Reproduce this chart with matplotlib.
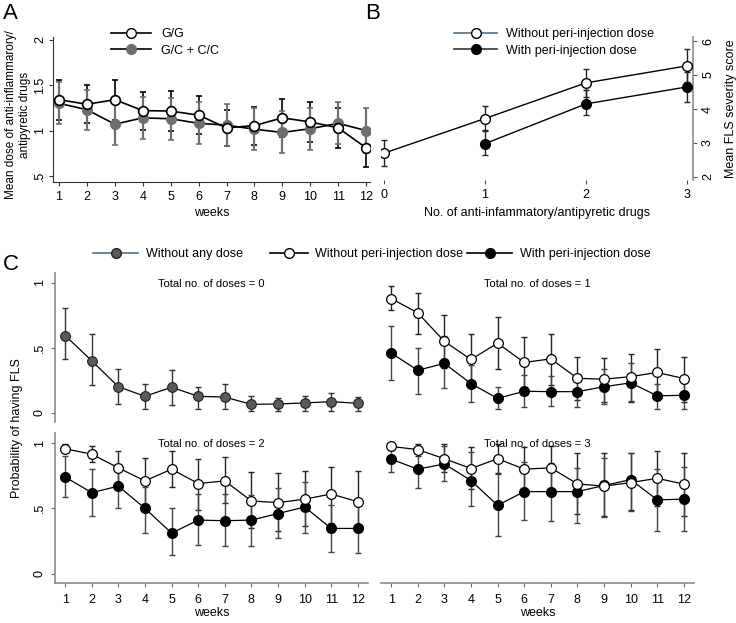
import matplotlib
matplotlib.use("Agg")
import matplotlib.pyplot as plt
from matplotlib.lines import Line2D

plt.rcParams['font.family'] = ['Liberation Sans', 'DejaVu Sans']

# ---- datos panel A ----
semanas = list(range(1, 13))
gg_media = [1.34, 1.29, 1.34, 1.22, 1.215, 1.17, 1.03, 1.055, 1.14, 1.095, 1.03, 0.81]
gg_err = [0.22, 0.21, 0.22, 0.21, 0.22, 0.21, 0.20, 0.21, 0.21, 0.22, 0.22, 0.21]
gc_media = [1.30, 1.23, 1.07, 1.14, 1.13, 1.08, 1.06, 1.015, 0.98, 1.02, 1.08, 1.00]
gc_err = [0.23, 0.22, 0.23, 0.23, 0.23, 0.23, 0.23, 0.23, 0.23, 0.23, 0.23, 0.245]

# ---- datos panel B ----
farmacos_sin = [0, 1, 2, 3]
sin_media = [2.7, 3.72, 4.77, 5.27]
sin_inf = [2.33, 3.35, 4.35, 4.80]
sin_sup = [3.10, 4.10, 5.17, 5.77]
farmacos_con = [1, 2, 3]
con_media = [2.98, 4.15, 4.65]
con_inf = [2.65, 3.83, 4.22]
con_sup = [3.38, 4.55, 5.10]

# ---- datos panel C ----
ninguna_p = [0.595, 0.40, 0.20, 0.126, 0.196, 0.126, 0.12, 0.064, 0.067, 0.075, 0.085, 0.072]
ninguna_inf = [0.41, 0.21, 0.065, 0.03, 0.06, 0.03, 0.03, 0.01, 0.01, 0.01, 0.015, 0.013]
ninguna_sup = [0.81, 0.61, 0.34, 0.22, 0.33, 0.20, 0.22, 0.126, 0.116, 0.13, 0.155, 0.124]

d1_sin_p = [0.88, 0.77, 0.55, 0.41, 0.536, 0.387, 0.415, 0.265, 0.258, 0.278, 0.31, 0.263]
d1_sin_inf = [0.79, 0.61, 0.345, 0.21, 0.335, 0.18, 0.21, 0.10, 0.08, 0.085, 0.126, 0.085]
d1_sin_sup = [0.975, 0.92, 0.75, 0.605, 0.74, 0.585, 0.605, 0.43, 0.42, 0.45, 0.49, 0.433]
d1_con_p = [0.46, 0.327, 0.38, 0.224, 0.11, 0.165, 0.162, 0.162, 0.20, 0.23, 0.13, 0.134]
d1_con_inf = [0.255, 0.147, 0.19, 0.08, 0.026, 0.046, 0.05, 0.046, 0.067, 0.09, 0.03, 0.03]
d1_con_sup = [0.665, 0.50, 0.595, 0.37, 0.196, 0.29, 0.28, 0.25, 0.335, 0.38, 0.22, 0.227]

d2_sin_p = [0.956, 0.915, 0.81, 0.71, 0.80, 0.69, 0.71, 0.556, 0.544, 0.57, 0.61, 0.55]
d2_sin_inf = [0.93, 0.856, 0.68, 0.53, 0.66, 0.49, 0.54, 0.35, 0.33, 0.365, 0.39, 0.315]
d2_sin_sup = [0.99, 0.98, 0.94, 0.885, 0.94, 0.877, 0.89, 0.78, 0.77, 0.785, 0.815, 0.785]
d2_con_p = [0.74, 0.62, 0.67, 0.50, 0.31, 0.41, 0.405, 0.41, 0.46, 0.51, 0.346, 0.346]
d2_con_inf = [0.59, 0.44, 0.50, 0.31, 0.14, 0.22, 0.21, 0.21, 0.27, 0.31, 0.164, 0.154]
d2_con_sup = [0.90, 0.80, 0.83, 0.667, 0.50, 0.61, 0.61, 0.60, 0.655, 0.705, 0.525, 0.535]

d3_sin_p = [0.974, 0.95, 0.88, 0.805, 0.88, 0.80, 0.81, 0.687, 0.67, 0.697, 0.73, 0.685]
d3_sin_inf = [0.95, 0.90, 0.78, 0.645, 0.77, 0.64, 0.645, 0.455, 0.44, 0.49, 0.52, 0.445]
d3_sin_sup = [0.99, 0.995, 0.99, 0.97, 0.99, 0.97, 0.975, 0.92, 0.92, 0.925, 0.94, 0.925]
d3_con_p = [0.877, 0.80, 0.84, 0.713, 0.523, 0.628, 0.628, 0.628, 0.675, 0.72, 0.565, 0.57]
d3_con_inf = [0.78, 0.654, 0.71, 0.52, 0.287, 0.41, 0.40, 0.39, 0.436, 0.48, 0.326, 0.326]
d3_con_sup = [0.95, 0.97, 0.975, 0.93, 0.765, 0.855, 0.85, 0.81, 0.885, 0.925, 0.80, 0.815]

ANCHO, ALTO = 736, 623
fig = plt.figure(figsize=(ANCHO / 100, ALTO / 100), dpi=100)


def caja(x0, y0, x1, y1):
    # convierte pixeles (arriba-izquierda) a fracciones de figura
    return [x0 / ANCHO, 1 - y1 / ALTO, (x1 - x0) / ANCHO, (y1 - y0) / ALTO]


def asimetrico(media, inf, sup):
    return [[m - a for m, a in zip(media, inf)], [b - m for m, b in zip(media, sup)]]


GRIS_EJE = '#8c8c8c'
GRIS_MARC = '#6e6e6e'
GRIS_C = '#5a5a5a'
LEYENDA_AZUL = '#4f6f88'

# ================= Panel A =================
axA = fig.add_axes(caja(53, 37, 370, 182))
axA.errorbar(semanas, gg_media, yerr=gg_err, fmt='none', ecolor='black', elinewidth=1.2, capsize=2.5, capthick=1.2, zorder=2)
axA.errorbar(semanas, gc_media, yerr=gc_err, fmt='none', ecolor=GRIS_MARC, elinewidth=1.6, capsize=2.5, capthick=1.2, zorder=2)
axA.plot(semanas, gc_media, '-o', color='black', lw=1.2, mfc=GRIS_MARC, mec=GRIS_MARC, ms=7, zorder=3)
axA.plot(semanas, gg_media, '-o', color='black', lw=1.2, mfc='white', mec='black', mew=1.2, ms=7, zorder=4)
axA.set_xlim(0.785, 12.14)
axA.set_ylim(0.434, 2.03)
axA.set_xticks(semanas)
axA.set_yticks([0.5, 1, 1.5, 2])
axA.set_yticklabels(['.5', '1', '1.5', '2'], rotation=90, va='center')
axA.set_xlabel('weeks', fontsize=9, labelpad=3)
for lado in ['top', 'right']:
    axA.spines[lado].set_visible(False)
for lado in ['left', 'bottom']:
    axA.spines[lado].set_color('#333333')
axA.tick_params(labelsize=9, length=3, color='#333333')
axA.tick_params(axis='y', pad=2)
fig.text(18 / ANCHO, 1 - 115 / ALTO, 'Mean dose of anti-inflammarory/\nantipyretic drugs', rotation=90,
         ha='center', va='center', multialignment='center', fontsize=8.5)
manijasA = [Line2D([], [], color='black', lw=1.2, marker='o', mfc='white', mec='black', ms=7),
            Line2D([], [], color='black', lw=1.2, marker='o', mfc=GRIS_MARC, mec=GRIS_MARC, ms=7)]
fig.legend(manijasA, ['G/G', 'G/C + C/C'], loc='upper left', bbox_to_anchor=(100 / ANCHO, 1 - 17 / ALTO),
           frameon=False, fontsize=9, handlelength=3.2, handletextpad=0.8, labelspacing=0.35)
fig.text(3 / ANCHO, 1 - 3 / ALTO, 'A', fontsize=16, va='top', ha='left')

# ================= Panel B =================
axB = fig.add_axes(caja(381, 37, 693, 180))
axB.errorbar(farmacos_sin, sin_media, yerr=asimetrico(sin_media, sin_inf, sin_sup), fmt='none', ecolor='#222222',
             elinewidth=1.0, capsize=2.5, zorder=2)
axB.errorbar(farmacos_con, con_media, yerr=asimetrico(con_media, con_inf, con_sup), fmt='none', ecolor='#222222',
             elinewidth=1.0, capsize=2.5, zorder=2)
axB.plot(farmacos_sin, sin_media, '-o', color='black', lw=1.0, mfc='white', mec='black', ms=7, zorder=4)
axB.plot(farmacos_con, con_media, '-o', color='black', lw=1.0, mfc='black', mec='black', ms=7, zorder=3)
axB.set_xlim(-0.03, 3.06)
axB.set_ylim(1.91, 6.12)
axB.set_xticks([0, 1, 2, 3])
axB.set_yticks([2, 3, 4, 5, 6])
axB.yaxis.tick_right()
axB.yaxis.set_label_position('right')
axB.set_yticklabels(['2', '3', '4', '5', '6'], rotation=90, va='center')
axB.set_xlabel('No. of anti-infammatory/antipyretic drugs', fontsize=9, labelpad=4)
axB.set_ylabel('Mean FLS severity score', fontsize=9, labelpad=8)
for lado in ['top', 'left', 'bottom']:
    axB.spines[lado].set_visible(False)
axB.spines['right'].set_color(GRIS_EJE)
axB.spines['right'].set_linewidth(1.2)
axB.tick_params(labelsize=9, length=3, color='#555555')
manijasB = [Line2D([], [], color=LEYENDA_AZUL, lw=1.2, marker='o', mfc='white', mec='black', ms=7),
            Line2D([], [], color='#333333', lw=1.2, marker='o', mfc='black', mec='black', ms=7)]
fig.legend(manijasB, ['Without peri-injection dose', 'With peri-injection dose'], loc='upper left',
           bbox_to_anchor=(443 / ANCHO, 1 - 17 / ALTO), frameon=False, fontsize=9,
           handlelength=3.4, handletextpad=0.7, labelspacing=0.35)
fig.text(365 / ANCHO, 1 - 3 / ALTO, 'B', fontsize=16, va='top', ha='left')

# ================= Panel C =================
paneles = [
    (caja(55, 273, 368, 422), 'Total no. of doses = 0', None, (ninguna_p, ninguna_inf, ninguna_sup)),
    (caja(381, 273, 694, 422), 'Total no. of doses = 1', (d1_sin_p, d1_sin_inf, d1_sin_sup), (d1_con_p, d1_con_inf, d1_con_sup)),
    (caja(55, 433, 368, 583), 'Total no. of doses = 2', (d2_sin_p, d2_sin_inf, d2_sin_sup), (d2_con_p, d2_con_inf, d2_con_sup)),
    (caja(381, 433, 694, 583), 'Total no. of doses = 3', (d3_sin_p, d3_sin_inf, d3_sin_sup), (d3_con_p, d3_con_inf, d3_con_sup)),
]
for i, (pos, titulo, sin, con) in enumerate(paneles):
    ax = fig.add_axes(pos)
    if i == 0:
        p, a, b = con
        ax.errorbar(semanas, p, yerr=asimetrico(p, a, b), fmt='none', ecolor='#333333', elinewidth=1.0, capsize=2.5, zorder=2)
        ax.plot(semanas, p, '-o', color='black', lw=0.9, mfc=GRIS_C, mec='#222222', mew=0.8, ms=7, zorder=3)
    else:
        p, a, b = sin
        ax.errorbar(semanas, p, yerr=asimetrico(p, a, b), fmt='none', ecolor='#222222', elinewidth=1.0, capsize=2.5, zorder=2)
        p2, a2, b2 = con
        ax.errorbar(semanas, p2, yerr=asimetrico(p2, a2, b2), fmt='none', ecolor='#444444', elinewidth=1.0, capsize=2.5, zorder=2)
        ax.plot(semanas, p2, '-o', color='black', lw=0.9, mfc='black', mec='black', ms=7, zorder=3)
        ax.plot(semanas, p, '-o', color='black', lw=0.9, mfc='white', mec='black', mew=0.9, ms=7, zorder=4)
    ax.set_xlim(0.62, 12.38)
    ax.set_ylim(-0.072, 1.077)
    ax.text(0.5, 0.926, titulo, transform=ax.transAxes, ha='center', va='center', fontsize=8)
    for lado in ['top', 'right', 'left', 'bottom']:
        ax.spines[lado].set_visible(False)
        ax.spines[lado].set_color(GRIS_EJE)
        ax.spines[lado].set_linewidth(1.2)
    ax.tick_params(labelsize=9, length=3, color='#666666')
    ax.tick_params(axis='x', pad=5)
    if i in (0, 2):
        ax.spines['left'].set_visible(True)
        ax.set_yticks([0, 0.5, 1])
        ax.set_yticklabels(['0', '.5', '1'], rotation=90, va='center')
    else:
        ax.set_yticks([])
    if i in (2, 3):
        ax.spines['bottom'].set_visible(True)
        ax.set_xticks(semanas)
        ax.set_xlabel('weeks', fontsize=9, labelpad=1)
    else:
        ax.set_xticks([])

fig.text(17 / ANCHO, 1 - 428 / ALTO, 'Probability of having FLS', rotation=90, ha='center', va='center', fontsize=9)
fig.text(3 / ANCHO, 1 - 254 / ALTO, 'C', fontsize=16, va='top', ha='left')

# leyenda C: tres entradas, cada una en su sitio
entradasC = [
    (Line2D([], [], color=LEYENDA_AZUL, lw=1.2, marker='o', mfc=GRIS_C, mec='#222222', ms=7), 'Without any dose', 93, 3.6),
    (Line2D([], [], color='black', lw=1.2, marker='o', mfc='white', mec='black', ms=7), 'Without peri-injection dose', 270, 3.0),
    (Line2D([], [], color='black', lw=1.2, marker='o', mfc='black', mec='black', ms=7), 'With peri-injection dose', 467, 3.6),
]
for manija, etiqueta, x0, largo in entradasC:
    fig.legend([manija], [etiqueta], loc='center left', bbox_to_anchor=(x0 / ANCHO, 1 - 254 / ALTO),
               frameon=False, fontsize=9, handlelength=largo, handletextpad=0.6, borderpad=0, borderaxespad=0)

fig.savefig('out.png', dpi=100)
